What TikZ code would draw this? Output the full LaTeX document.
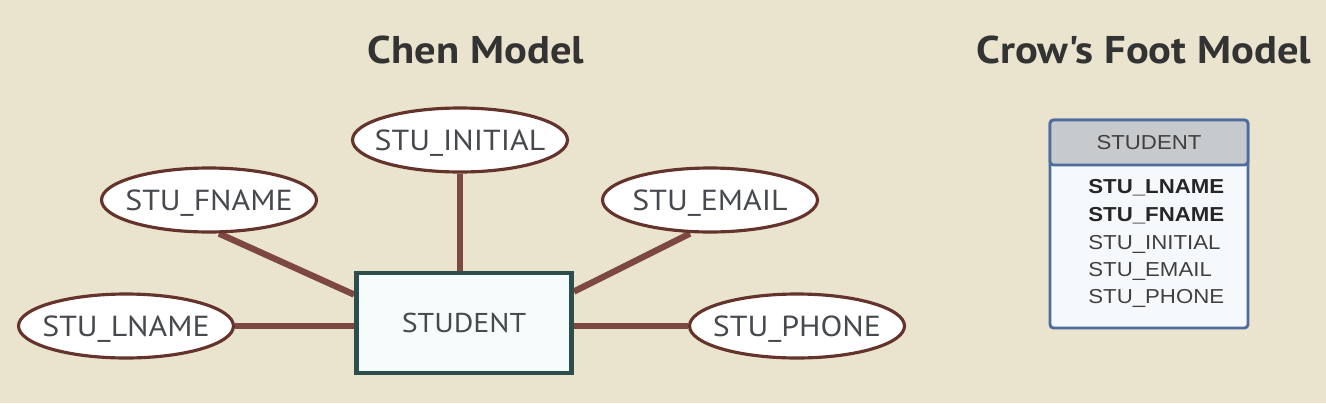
\documentclass[tikz,border=0pt]{standalone}
\usepackage{fontspec}
\setmainfont{PT Sans}
\newfontfamily\chenfont[FakeStretch=1.1]{PT Sans}
\newfontfamily\arialfont[FakeStretch=1.1]{Liberation Sans}
\usetikzlibrary{shapes.geometric}
\usetikzlibrary{positioning}
\usetikzlibrary{calc}
\usetikzlibrary{backgrounds}
\definecolor{bgbeige}{RGB}{234,227,205}
\definecolor{linkbrown}{RGB}{125,72,64}
\definecolor{ovalbrown}{RGB}{100,52,44}
\definecolor{boxteal}{RGB}{45,78,76}
\definecolor{boxfill}{RGB}{246,252,252}
\definecolor{cfblue}{RGB}{78,108,160}
\definecolor{cfgrey}{RGB}{198,202,204}
\definecolor{cfbody}{RGB}{246,249,252}
\definecolor{txtgrey}{RGB}{70,74,78}
% text that takes no room, so the oval keeps its set size
\newcommand{\ovaltext}[1]{\makebox[0pt]{\raisebox{-0.35em}[0pt][0pt]{#1}}}
\tikzset{
attr/.style={ % Sets the properties for each attribute oval
ellipse,
draw=ovalbrown,
line width=1.8pt,
fill=white,
minimum width=4.3cm,
minimum height=1.28cm,
inner sep=0pt,
text=txtgrey,
font=\chenfont\fontsize{16.5}{16.5}\selectfont},
entity/.style={ % Chen entity box
rectangle,
draw=boxteal,
line width=2.8pt,
fill=boxfill,
minimum width=4.3cm,
minimum height=2cm,
text=txtgrey,
font=\chenfont\fontsize{15.5}{15.5}\selectfont},
link/.style={ % Connects an attribute to the entity
draw=linkbrown,
line width=3.6pt},
title/.style={
font=\chenfont\fontsize{22}{22}\selectfont\bfseries,
text=black!80},
cfrow/.style={
anchor=west,
inner sep=0pt,
text=black!75,
font=\arialfont\fontsize{11.5}{11.5}\selectfont},
cfkey/.style={
cfrow,
text=black!85,
font=\arialfont\fontsize{11.5}{11.5}\selectfont\bfseries}}

\begin{document}
\begin{tikzpicture}[x=0.02cm,y=-0.02cm]
\useasboundingbox (0,0) rectangle (1326,403);
% titles
\node[title] (chen) at (476,50) {Chen Model};
\node[title] (crow) at (1144,50) {Crow's Foot Model};
% Chen model
\node[entity] (stu) at (464,323) {STUDENT};
\node[attr] (initial) at (460,140) {\ovaltext{STU\_INITIAL}};
\node[attr] (fname) at (209,200) {\ovaltext{STU\_FNAME}};
\node[attr] (email) at (710,200) {\ovaltext{STU\_EMAIL}};
\node[attr] (lname) at (126,326) {\ovaltext{STU\_LNAME}};
\node[attr] (phone) at (797,326) {\ovaltext{STU\_PHONE}};
\begin{scope}[on background layer]
\fill[bgbeige] (0,0) rectangle (1326,403);
\draw[link] (initial) -- (initial |- stu.north);
\draw[link] ($(fname.south)+(10,0)$) -- ($(stu.north west)+(0,24)$);
\draw[link] ($(email.south)+(-20,0)$) -- ($(stu.north east)+(0,21)$);
\draw[link] (lname) -- (lname -| stu.west);
\draw[link] (phone) -- (phone -| stu.east);
\end{scope}
% Crow's Foot model
\draw[cfblue, line width=1.6pt, fill=cfbody, rounded corners=2pt] (1050,120) rectangle (1248,328);
\draw[cfblue, line width=1.6pt, fill=cfgrey, rounded corners=2pt] (1050,120) rectangle (1248,165);
\node[cfrow, anchor=center] (cfent) at (1149,143) {STUDENT};
\node[cfkey] (r1) at (1088,188) {STU\_LNAME};
\node[cfkey] (r2) at (1088,216) {STU\_FNAME};
\node[cfrow] (r3) at (1088,244) {STU\_INITIAL};
\node[cfrow] (r4) at (1088,271) {STU\_EMAIL};
\node[cfrow] (r5) at (1088,298) {STU\_PHONE};
\end{tikzpicture}
\end{document}
